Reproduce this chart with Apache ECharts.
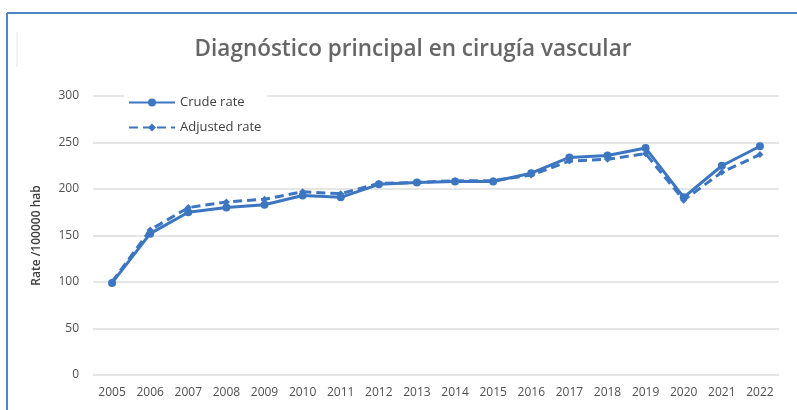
<!DOCTYPE html>
<html>
<head>
<meta charset="utf-8">
<script src="https://cdn.jsdelivr.net/npm/echarts@6/dist/echarts.min.js"></script>
<style>
  html, body { margin: 0; padding: 0; background: #fff; }
  #chart { width: 797px; height: 410px; }
</style>
</head>
<body>
<div id="chart"></div>
<script>
// datos
const years = ["2005","2006","2007","2008","2009","2010","2011","2012","2013","2014","2015","2016","2017","2018","2019","2020","2021","2022"];
const crudeRate = [99, 152, 175, 180, 183, 193, 191, 205, 207, 208, 208, 217, 234, 236, 244, 191, 225, 246];
const adjustedRate = [100, 156, 180, 186, 189, 197, 195, 206, 207, 209, 209, 215, 230, 232, 238, 188, 218, 237];
const yTicks = [0, 50, 100, 150, 200, 250, 300];

const BLUE = "#3d76c0";
const chart = echarts.init(document.getElementById("chart"));

chart.setOption({
  animation: false,
  title: {
    text: "Diagnóstico principal en cirugía vascular",
    left: 408,
    textAlign: "center",
    top: 33,
    textStyle: { fontFamily: "Open Sans", fontSize: 22.5, fontWeight: 600, color: "#666" },
  },
  graphic: [
    { type: "line", shape: { x1: 7, y1: 13, x2: 797, y2: 13 }, style: { stroke: "#4a86c8", lineWidth: 2 } },
    { type: "line", shape: { x1: 7, y1: 13, x2: 7, y2: 410 }, style: { stroke: "#4a86c8", lineWidth: 2 } },
    { type: "line", shape: { x1: 17, y1: 32, x2: 17, y2: 67 }, style: { stroke: "#e6e6e6", lineWidth: 1 } },
  ],
  legend: {
    left: 124,
    top: 94,
    orient: "vertical",
    itemGap: 12,
    itemWidth: 46,
    itemHeight: 10,
    backgroundColor: "#fff",
    padding: [2, 6, 2, 4],
    textStyle: { fontFamily: "Open Sans", fontSize: 13, color: "#404040" },
    data: ["Crude rate", "Adjusted rate"],
  },
  grid: { left: 93, right: 18, top: 96, bottom: 35 },
  xAxis: {
    type: "category",
    data: years,
    boundaryGap: true,
    axisLine: { show: false },
    axisTick: { show: false },
    axisLabel: { fontFamily: "Open Sans", fontSize: 12, color: "#505050", margin: 12 },
  },
  yAxis: {
    type: "value",
    min: yTicks[0],
    max: yTicks[yTicks.length - 1],
    interval: 50,
    name: "Rate /100000 hab",
    nameLocation: "middle",
    nameGap: 50,
    nameTextStyle: { fontFamily: "Open Sans", fontSize: 12, fontWeight: 600, color: "#404040" },
    axisLine: { show: false },
    axisTick: { show: false },
    axisLabel: { fontFamily: "Open Sans", fontSize: 12, color: "#505050", margin: 14 },
    splitLine: { lineStyle: { color: "#dcdcdc", width: 1.5 } },
  },
  series: [
    {
      name: "Crude rate",
      type: "line",
      data: crudeRate,
      symbol: "circle",
      symbolSize: 8,
      itemStyle: { color: BLUE },
      lineStyle: { color: BLUE, width: 3 },
      z: 3,
    },
    {
      name: "Adjusted rate",
      type: "line",
      data: adjustedRate,
      symbol: "diamond",
      symbolSize: 7,
      itemStyle: { color: BLUE },
      lineStyle: { color: BLUE, width: 3, type: [9, 5] },
      z: 2,
    },
  ],
});
</script>
</body>
</html>
